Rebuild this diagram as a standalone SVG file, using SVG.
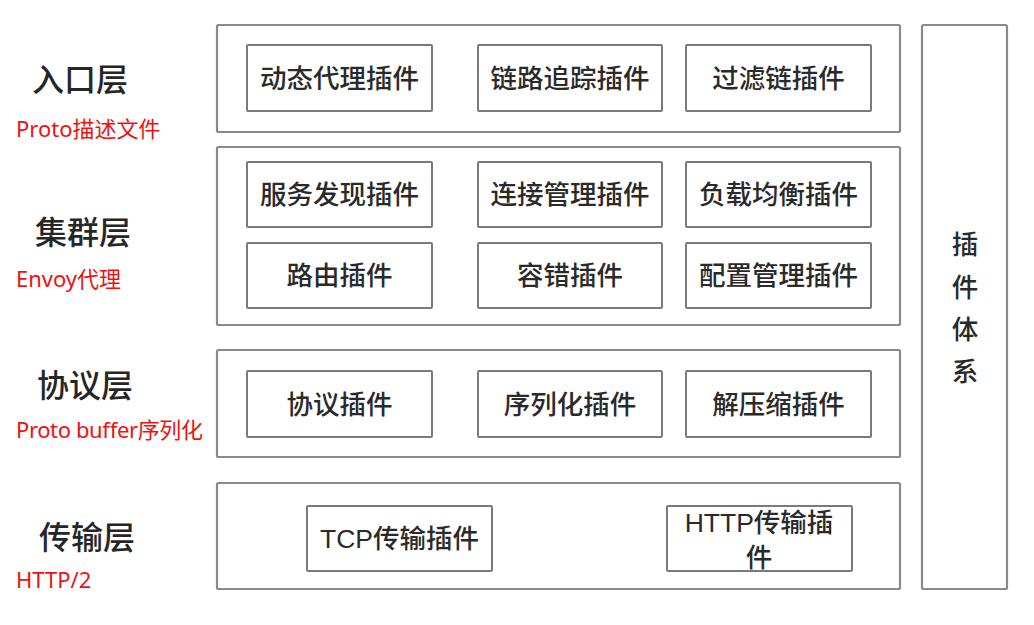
<svg xmlns="http://www.w3.org/2000/svg" width="1034" height="625" viewBox="0 0 1034 625">
  <style>
    .layer { fill: #ffffff; stroke: #8a8a8a; stroke-width: 2.2; }
    .plugin { fill: #ffffff; stroke: #7a7a7a; stroke-width: 2; }
    .ptext { font-family: "Liberation Sans", "Noto Sans CJK SC", sans-serif; font-size: 26.5px; fill: #2a2a2a; text-anchor: middle; font-weight: 500; }
    .ltext { font-family: "Noto Sans CJK SC", "Liberation Sans", sans-serif; font-size: 32px; fill: #262626; font-weight: 500; }
    .note { font-family: "Noto Sans", "Noto Sans CJK SC", sans-serif; font-size: 22px; fill: #ee1111; }
  </style>
  <rect width="1034" height="625" fill="#ffffff"/>

  <!-- layer names and notes -->
  <g id="label-entry">
    <text class="ltext" x="32" y="91">入口层</text>
    <text class="note" x="16" y="137">Proto描述文件</text>
  </g>
  <g id="label-cluster">
    <text class="ltext" x="35" y="244">集群层</text>
    <text class="note" x="16" y="287">Envoy代理</text>
  </g>
  <g id="label-protocol">
    <text class="ltext" x="37" y="397">协议层</text>
    <text class="note" x="16" y="438" textLength="187">Proto buffer序列化</text>
  </g>
  <g id="label-transport">
    <text class="ltext" x="39" y="549">传输层</text>
    <text class="note" x="16" y="588">HTTP/2</text>
  </g>

  <!-- entry layer -->
  <g id="layer-entry">
    <rect class="layer" x="217" y="25" width="683" height="107" rx="1.5"/>
    <g id="dynamic-proxy">
      <rect class="plugin" x="247" y="45" width="185" height="66" rx="1"/>
      <text class="ptext" x="339.5" y="88">动态代理插件</text>
    </g>
    <g id="tracing">
      <rect class="plugin" x="478" y="45" width="184" height="66" rx="1"/>
      <text class="ptext" x="570" y="88">链路追踪插件</text>
    </g>
    <g id="filter-chain">
      <rect class="plugin" x="686" y="45" width="185" height="66" rx="1"/>
      <text class="ptext" x="778.5" y="88">过滤链插件</text>
    </g>
  </g>

  <!-- cluster layer -->
  <g id="layer-cluster">
    <rect class="layer" x="217" y="147" width="683" height="178" rx="1.5"/>
    <g id="discovery">
      <rect class="plugin" x="247" y="162" width="185" height="65" rx="1"/>
      <text class="ptext" x="339.5" y="204">服务发现插件</text>
    </g>
    <g id="connection">
      <rect class="plugin" x="478" y="162" width="184" height="65" rx="1"/>
      <text class="ptext" x="570" y="204">连接管理插件</text>
    </g>
    <g id="load-balance">
      <rect class="plugin" x="686" y="162" width="185" height="65" rx="1"/>
      <text class="ptext" x="778.5" y="204">负载均衡插件</text>
    </g>
    <g id="routing">
      <rect class="plugin" x="247" y="243" width="185" height="65" rx="1"/>
      <text class="ptext" x="339.5" y="285">路由插件</text>
    </g>
    <g id="fault-tolerance">
      <rect class="plugin" x="478" y="243" width="184" height="65" rx="1"/>
      <text class="ptext" x="570" y="285">容错插件</text>
    </g>
    <g id="config">
      <rect class="plugin" x="686" y="243" width="185" height="65" rx="1"/>
      <text class="ptext" x="778.5" y="285">配置管理插件</text>
    </g>
  </g>

  <!-- protocol layer -->
  <g id="layer-protocol">
    <rect class="layer" x="217" y="350" width="683" height="107" rx="1.5"/>
    <g id="protocol">
      <rect class="plugin" x="247" y="371" width="185" height="66" rx="1"/>
      <text class="ptext" x="339.5" y="414">协议插件</text>
    </g>
    <g id="serialize">
      <rect class="plugin" x="478" y="371" width="184" height="66" rx="1"/>
      <text class="ptext" x="570" y="414">序列化插件</text>
    </g>
    <g id="compress">
      <rect class="plugin" x="686" y="371" width="185" height="66" rx="1"/>
      <text class="ptext" x="778.5" y="414">解压缩插件</text>
    </g>
  </g>

  <!-- transport layer -->
  <g id="layer-transport">
    <rect class="layer" x="217" y="483" width="683" height="106" rx="1.5"/>
    <g id="tcp">
      <rect class="plugin" x="307" y="506" width="185" height="65" rx="1"/>
      <text class="ptext" x="399.5" y="548">TCP传输插件</text>
    </g>
    <g id="http">
      <rect class="plugin" x="667" y="506" width="185" height="65" rx="1"/>
      <text class="ptext" x="759" y="532">HTTP传输插</text>
      <text class="ptext" x="759" y="567">件</text>
    </g>
  </g>

  <!-- plugin system column -->
  <g id="plugin-system">
    <rect class="layer" x="922" y="25" width="85" height="564" rx="1.5"/>
    <text class="ptext" x="965" y="254">插</text>
    <text class="ptext" x="965" y="297">件</text>
    <text class="ptext" x="965" y="339">体</text>
    <text class="ptext" x="965" y="381">系</text>
  </g>

  <!-- no connectors in this figure -->
  <g id="connectors"></g>
</svg>
